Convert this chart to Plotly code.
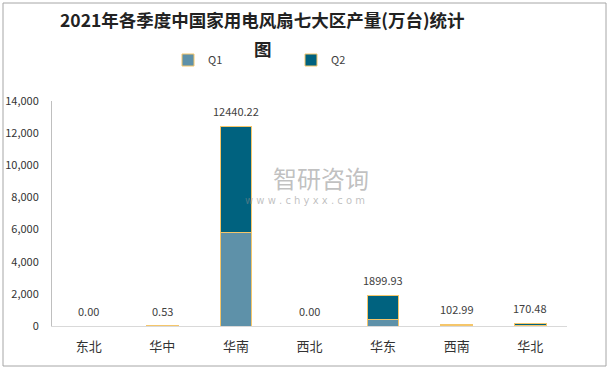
import plotly.graph_objects as go

categories = ["东北", "华中", "华南", "西北", "华东", "西南", "华北"]
q1 = [0.0, 0.30, 5790.0, 0.0, 420.0, 50.0, 25.0]
q2 = [0.0, 0.23, 6650.22, 0.0, 1479.93, 52.99, 145.48]
totals = [0.00, 0.53, 12440.22, 0.00, 1899.93, 102.99, 170.48]
y_ticks = [0, 2000, 4000, 6000, 8000, 10000, 12000, 14000]

font_cjk = "Noto Sans CJK SC, Noto Sans, sans-serif"
outline = dict(color="#F5C66A", width=1)

L, R, T, B = 52, 567, 101, 326
W, H = R - L, B - T

def px(x):
    return (x - L) / W

def py(y):
    return (B - y) / H

fig = go.Figure()
fig.add_trace(go.Bar(x=categories, y=q1, name="Q1", marker=dict(color="#5E91A9", line=outline), width=0.43))
fig.add_trace(go.Bar(x=categories, y=q2, name="Q2", marker=dict(color="#00627F", line=outline), width=0.43))

for c, t in zip(categories, totals):
    fig.add_annotation(x=c, y=t, text=f"{t:.2f}", showarrow=False, yanchor="middle", yshift=15,
                       font=dict(family=font_cjk, size=11, color="#404040"))

# title (two lines as in the reference)
fig.add_annotation(xref="paper", yref="paper", x=px(262), y=py(19),
                   text="<b>2021年各季度中国家用电风扇七大区产量(万台)统计</b>",
                   showarrow=False, xanchor="center", yanchor="middle",
                   font=dict(family=font_cjk, size=17.5, color="#222222"))
fig.add_annotation(xref="paper", yref="paper", x=px(263), y=py(48),
                   text="<b>图</b>",
                   showarrow=False, xanchor="center", yanchor="middle",
                   font=dict(family=font_cjk, size=17.5, color="#222222"))

# watermark
fig.add_annotation(xref="paper", yref="paper", x=px(321), y=py(177),
                   text="智研咨询", showarrow=False, xanchor="center", yanchor="middle",
                   font=dict(family=font_cjk, size=24, color="rgba(140,140,140,0.55)"))
fig.add_annotation(xref="paper", yref="paper", x=px(305), y=py(200),
                   text="w w w . c h y x x . c o m", showarrow=False, xanchor="center", yanchor="middle",
                   font=dict(family="DejaVu Sans", size=10, color="rgba(140,140,140,0.55)"))

fig.update_layout(
    width=610, height=370,
    margin=dict(l=L, r=610 - R, t=T, b=370 - B, autoexpand=False),
    paper_bgcolor="white", plot_bgcolor="white",
    barmode="stack",
    showlegend=True,
    legend=dict(orientation="h", traceorder="normal", x=px(168), y=py(60), xanchor="left", yanchor="middle",
                entrywidth=78, entrywidthmode="pixels",
                font=dict(family=font_cjk, size=11, color="#404040"), bgcolor="rgba(0,0,0,0)"),
    xaxis=dict(showline=True, linecolor="#D9D9D9", linewidth=1, ticks="", automargin=False,
               ticklabelstandoff=8,
               tickfont=dict(family=font_cjk, size=13, color="#333333"), showgrid=False),
    yaxis=dict(range=[0, 14000], tickvals=y_ticks, tickformat=",", showgrid=False, zeroline=False,
               showline=True, linecolor="#BFBFBF", linewidth=1, ticks="", automargin=False,
               ticklabelstandoff=10,
               tickfont=dict(family=font_cjk, size=11, color="#333333")),
    shapes=[dict(type="rect", xref="paper", yref="paper",
                 x0=px(3), x1=px(606), y0=py(366), y1=py(3),
                 line=dict(color="#A6A6A6", width=1))],
)

fig.write_html("out.html", config={"displayModeBar": False},
               post_script="document.body.style.margin='0';")
